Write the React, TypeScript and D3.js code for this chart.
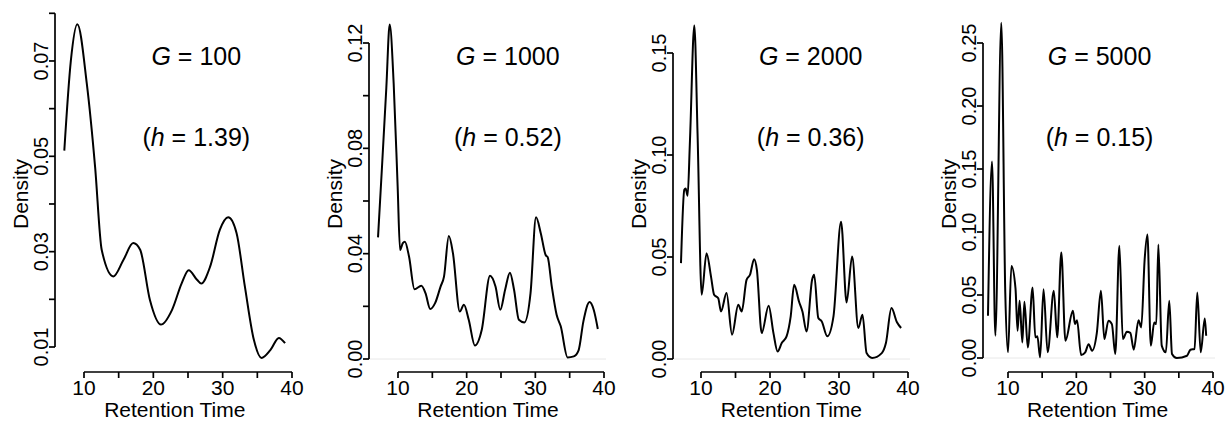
import React from "react";
import * as d3 from "d3";

// ---- data ----
const gLabels = ["100", "1000", "2000", "5000"];
const hLabels = ["1.39", "0.52", "0.36", "0.15"];
const xTicks = [10, 15, 20, 25, 30, 35, 40];
const xTickLabels = ["10", "", "20", "", "30", "", "40"];

const yTicksG100 = [0.01, 0.02, 0.03, 0.04, 0.05, 0.06, 0.07, 0.08];
const yLabelsG100 = ["0.01", "", "0.03", "", "0.05", "", "0.07", ""];
const yTicksG1000 = [0, 0.02, 0.04, 0.06, 0.08, 0.1, 0.12];
const yLabelsG1000 = ["0.00", "", "0.04", "", "0.08", "", "0.12"];
const yTicksG2000 = [0, 0.05, 0.1, 0.15];
const yLabelsG2000 = ["0.00", "0.05", "0.10", "0.15"];
const yTicksG5000 = [0, 0.05, 0.1, 0.15, 0.2, 0.25];
const yLabelsG5000 = ["0.00", "0.05", "0.10", "0.15", "0.20", "0.25"];

const densityG100: [number, number][] = [
  [7.16, 0.0512], [8.1, 0.07], [9.04, 0.0777], [10.4, 0.0653], [11.6, 0.0478], [12.55, 0.0304],
  [14.24, 0.0248], [15.7, 0.0283], [17.1, 0.0318], [18.1, 0.0304], [19.5, 0.0199], [21.1, 0.0147],
  [22.7, 0.0178], [24.1, 0.0234], [25.1, 0.0261], [26.3, 0.0241], [26.9, 0.0233], [28.2, 0.0269],
  [29.6, 0.0346], [30.8, 0.0372], [32.0, 0.0339], [33.2, 0.0227], [34.5, 0.0115], [35.6, 0.0077],
  [36.9, 0.0094], [38.1, 0.0119], [39.0, 0.0108],
];

const densityG1000: [number, number][] = [
  [7.09, 0.0462], [7.67, 0.073], [8.3, 0.103], [8.79, 0.127], [9.37, 0.1046], [9.95, 0.0654],
  [10.3, 0.0414], [10.7, 0.044], [11.0, 0.0445], [11.6, 0.039], [12.4, 0.0265], [13.4, 0.0278],
  [14.0, 0.025], [14.7, 0.019], [15.4, 0.0212], [16.2, 0.0275], [16.7, 0.0313], [17.4, 0.0467],
  [18.0, 0.0402], [19.0, 0.018], [19.6, 0.0206], [20.3, 0.0149], [21.2, 0.0051], [22.2, 0.0111],
  [23.4, 0.0316], [24.2, 0.0275], [24.9, 0.0187], [25.6, 0.0263], [26.3, 0.0328], [26.9, 0.0263],
  [27.6, 0.0149], [28.4, 0.0139], [29.3, 0.025], [30.1, 0.0538], [30.8, 0.0477], [31.5, 0.0395],
  [31.8, 0.0387], [32.4, 0.0275], [33.1, 0.0168], [33.7, 0.0124], [34.7, 0.0006], [35.6, 0.001],
  [36.3, 0.0033], [37.0, 0.0143], [37.9, 0.0216], [38.5, 0.0187], [39.1, 0.0114],
];

const densityG2000: [number, number][] = [
  [7.1, 0.047], [7.58, 0.083], [7.77, 0.0836], [8.06, 0.08], [8.4, 0.107], [9.03, 0.1635],
  [9.5, 0.1105], [10.1, 0.0315], [10.8, 0.0518], [11.45, 0.0404], [11.9, 0.0315], [12.5, 0.0298],
  [12.9, 0.0233], [13.7, 0.0323], [14.5, 0.0119], [15.4, 0.0266], [15.9, 0.0233], [16.6, 0.0388],
  [17.1, 0.0413], [17.7, 0.0489], [18.1, 0.0437], [18.8, 0.0127], [19.8, 0.0261], [20.5, 0.0127],
  [21.1, 0.0037], [21.7, 0.0078], [22.4, 0.0111], [23.0, 0.0209], [23.5, 0.0364], [24.2, 0.0282],
  [24.7, 0.0233], [25.3, 0.0135], [26.1, 0.0388], [26.4, 0.0413], [27.0, 0.0201], [27.5, 0.0184],
  [28.3, 0.0111], [29.2, 0.0209], [30.3, 0.0673], [31.1, 0.0277], [31.9, 0.0502], [32.8, 0.0152],
  [33.4, 0.0217], [34.0, 0.0029], [34.8, 0.0005], [36.2, 0.0029], [36.8, 0.0078], [37.6, 0.025],
  [38.4, 0.018], [39.0, 0.0152],
];

const densityG5000: [number, number][] = [
  [7.07, 0.0335], [7.66, 0.156], [8.15, 0.0177], [9.02, 0.266], [9.6, 0.052], [10.0, 0.0045],
  [10.5, 0.073], [11.1, 0.055], [11.4, 0.0216], [11.7, 0.0454], [12.1, 0.0124], [12.4, 0.0446],
  [12.9, 0.0084], [13.6, 0.056], [14.0, 0.0164], [14.3, 0.0172], [14.7, 0.0005], [15.2, 0.0546],
  [15.8, 0.0045], [16.7, 0.0533], [17.2, 0.0164], [17.8, 0.0837], [18.4, 0.0137], [19.5, 0.0375],
  [19.8, 0.0269], [20.1, 0.03], [20.7, 0.0024], [21.3, 0.0045], [21.8, 0.011], [22.3, 0.0058],
  [23.0, 0.02], [23.6, 0.0533], [24.1, 0.015], [24.7, 0.0296], [25.2, 0.0269], [25.7, 0.0032],
  [26.3, 0.089], [26.8, 0.015], [27.4, 0.0209], [27.9, 0.02], [28.4, 0.0066], [29.1, 0.03],
  [29.5, 0.0243], [30.0, 0.0784], [30.4, 0.098], [30.9, 0.0098], [31.4, 0.0282], [31.7, 0.0269],
  [32.0, 0.09], [32.5, 0.0098], [33.1, 0.0045], [33.6, 0.0454], [34.0, 0.0032], [34.7, 0.0],
  [36.2, 0.0018], [36.7, 0.0066], [37.3, 0.0071], [37.7, 0.052], [38.2, 0.0045], [38.8, 0.0314],
  [39.0, 0.0177],
];

// ---- layout ----
const FONT = "'Liberation Sans', Arial, Helvetica, sans-serif";
const AXIS_Y = 372;

const panels = [
  { data: densityG100, yTicks: yTicksG100, yLabels: yLabelsG100, xRange: [84, 292], yAxisX: 55, yDomain: [0.01, 0.08], yRange: [347, 13.3], zero: false, annotX: 26.2 },
  { data: densityG1000, yTicks: yTicksG1000, yLabels: yLabelsG1000, xRange: [398, 604], yAxisX: 369, yDomain: [0, 0.12], yRange: [359, 43], zero: true, annotX: 26 },
  { data: densityG2000, yTicks: yTicksG2000, yLabels: yLabelsG2000, xRange: [701, 908], yAxisX: 673, yDomain: [0, 0.15], yRange: [359, 53], zero: true, annotX: 25.9 },
  { data: densityG5000, yTicks: yTicksG5000, yLabels: yLabelsG5000, xRange: [1008, 1213], yAxisX: 983, yDomain: [0, 0.25], yRange: [358, 43], zero: true, annotX: 23.4 },
];

function Panel({ p, i }: { p: any; i: number }) {
  const x = d3.scaleLinear().domain([10, 40]).range(p.xRange);
  const y = d3.scaleLinear().domain(p.yDomain).range(p.yRange);
  const line = d3
    .line<[number, number]>()
    .x((d) => x(d[0]))
    .y((d) => y(d[1]))
    .curve(d3.curveMonotoneX);
  const tick = 6;
  const yt0 = p.yTicks[0];
  const yt1 = p.yTicks[p.yTicks.length - 1];
  const cx = x(p.annotX);
  return (
    <g>
      {p.zero && (
        <line x1={p.yAxisX} x2={x(40.3)} y1={y(0)} y2={y(0)} stroke="#e8e8e8" strokeWidth={1} />
      )}
      <path d={line(p.data) || ""} fill="none" stroke="#000" strokeWidth={2} strokeLinejoin="round" />
      {/* x axis */}
      <line x1={x(10)} x2={x(40)} y1={AXIS_Y} y2={AXIS_Y} stroke="#000" strokeWidth={1.7} />
      {xTicks.map((t, k) => (
        <g key={"xt" + k}>
          <line x1={x(t)} x2={x(t)} y1={AXIS_Y} y2={AXIS_Y + tick} stroke="#000" strokeWidth={1.7} />
          {xTickLabels[k] && (
            <text x={x(t)} y={394.5} textAnchor="middle" fontSize={21} fontFamily={FONT}>
              {xTickLabels[k]}
            </text>
          )}
        </g>
      ))}
      <text x={x(23.1)} y={416.5} textAnchor="middle" fontSize={21} fontFamily={FONT}>
        Retention Time
      </text>
      {/* y axis */}
      <line x1={p.yAxisX} x2={p.yAxisX} y1={y(yt0)} y2={y(yt1)} stroke="#000" strokeWidth={1.7} />
      {p.yTicks.map((t: number, k: number) => (
        <g key={"yt" + k}>
          <line x1={p.yAxisX - tick} x2={p.yAxisX} y1={y(t)} y2={y(t)} stroke="#000" strokeWidth={1.7} />
          {p.yLabels[k] && (
            <text
              transform={`translate(${p.yAxisX - 7.5},${y(t)}) rotate(-90)`}
              textAnchor="middle"
              fontSize={20}
              fontFamily={FONT}
            >
              {p.yLabels[k]}
            </text>
          )}
        </g>
      ))}
      <text
        transform={`translate(${p.yAxisX - 27},194) rotate(-90)`}
        textAnchor="middle"
        fontSize={21}
        fontFamily={FONT}
      >
        Density
      </text>
      {/* annotations */}
      <text x={cx} y={65} textAnchor="middle" fontSize={25} fontFamily={FONT}>
        <tspan fontStyle="italic">G</tspan> = {gLabels[i]}
      </text>
      <text x={cx} y={146} textAnchor="middle" fontSize={25} fontFamily={FONT}>
        (<tspan fontStyle="italic">h</tspan> = {hLabels[i]})
      </text>
    </g>
  );
}

export default function App() {
  return (
    <svg
      width={1226}
      height={421}
      viewBox="0 0 1226 421"
      style={{ position: "absolute", left: 0, top: 0, background: "#fff" }}
    >
      <rect width={1226} height={421} fill="#fff" />
      {panels.map((p, i) => (
        <Panel key={i} p={p} i={i} />
      ))}
    </svg>
  );
}
